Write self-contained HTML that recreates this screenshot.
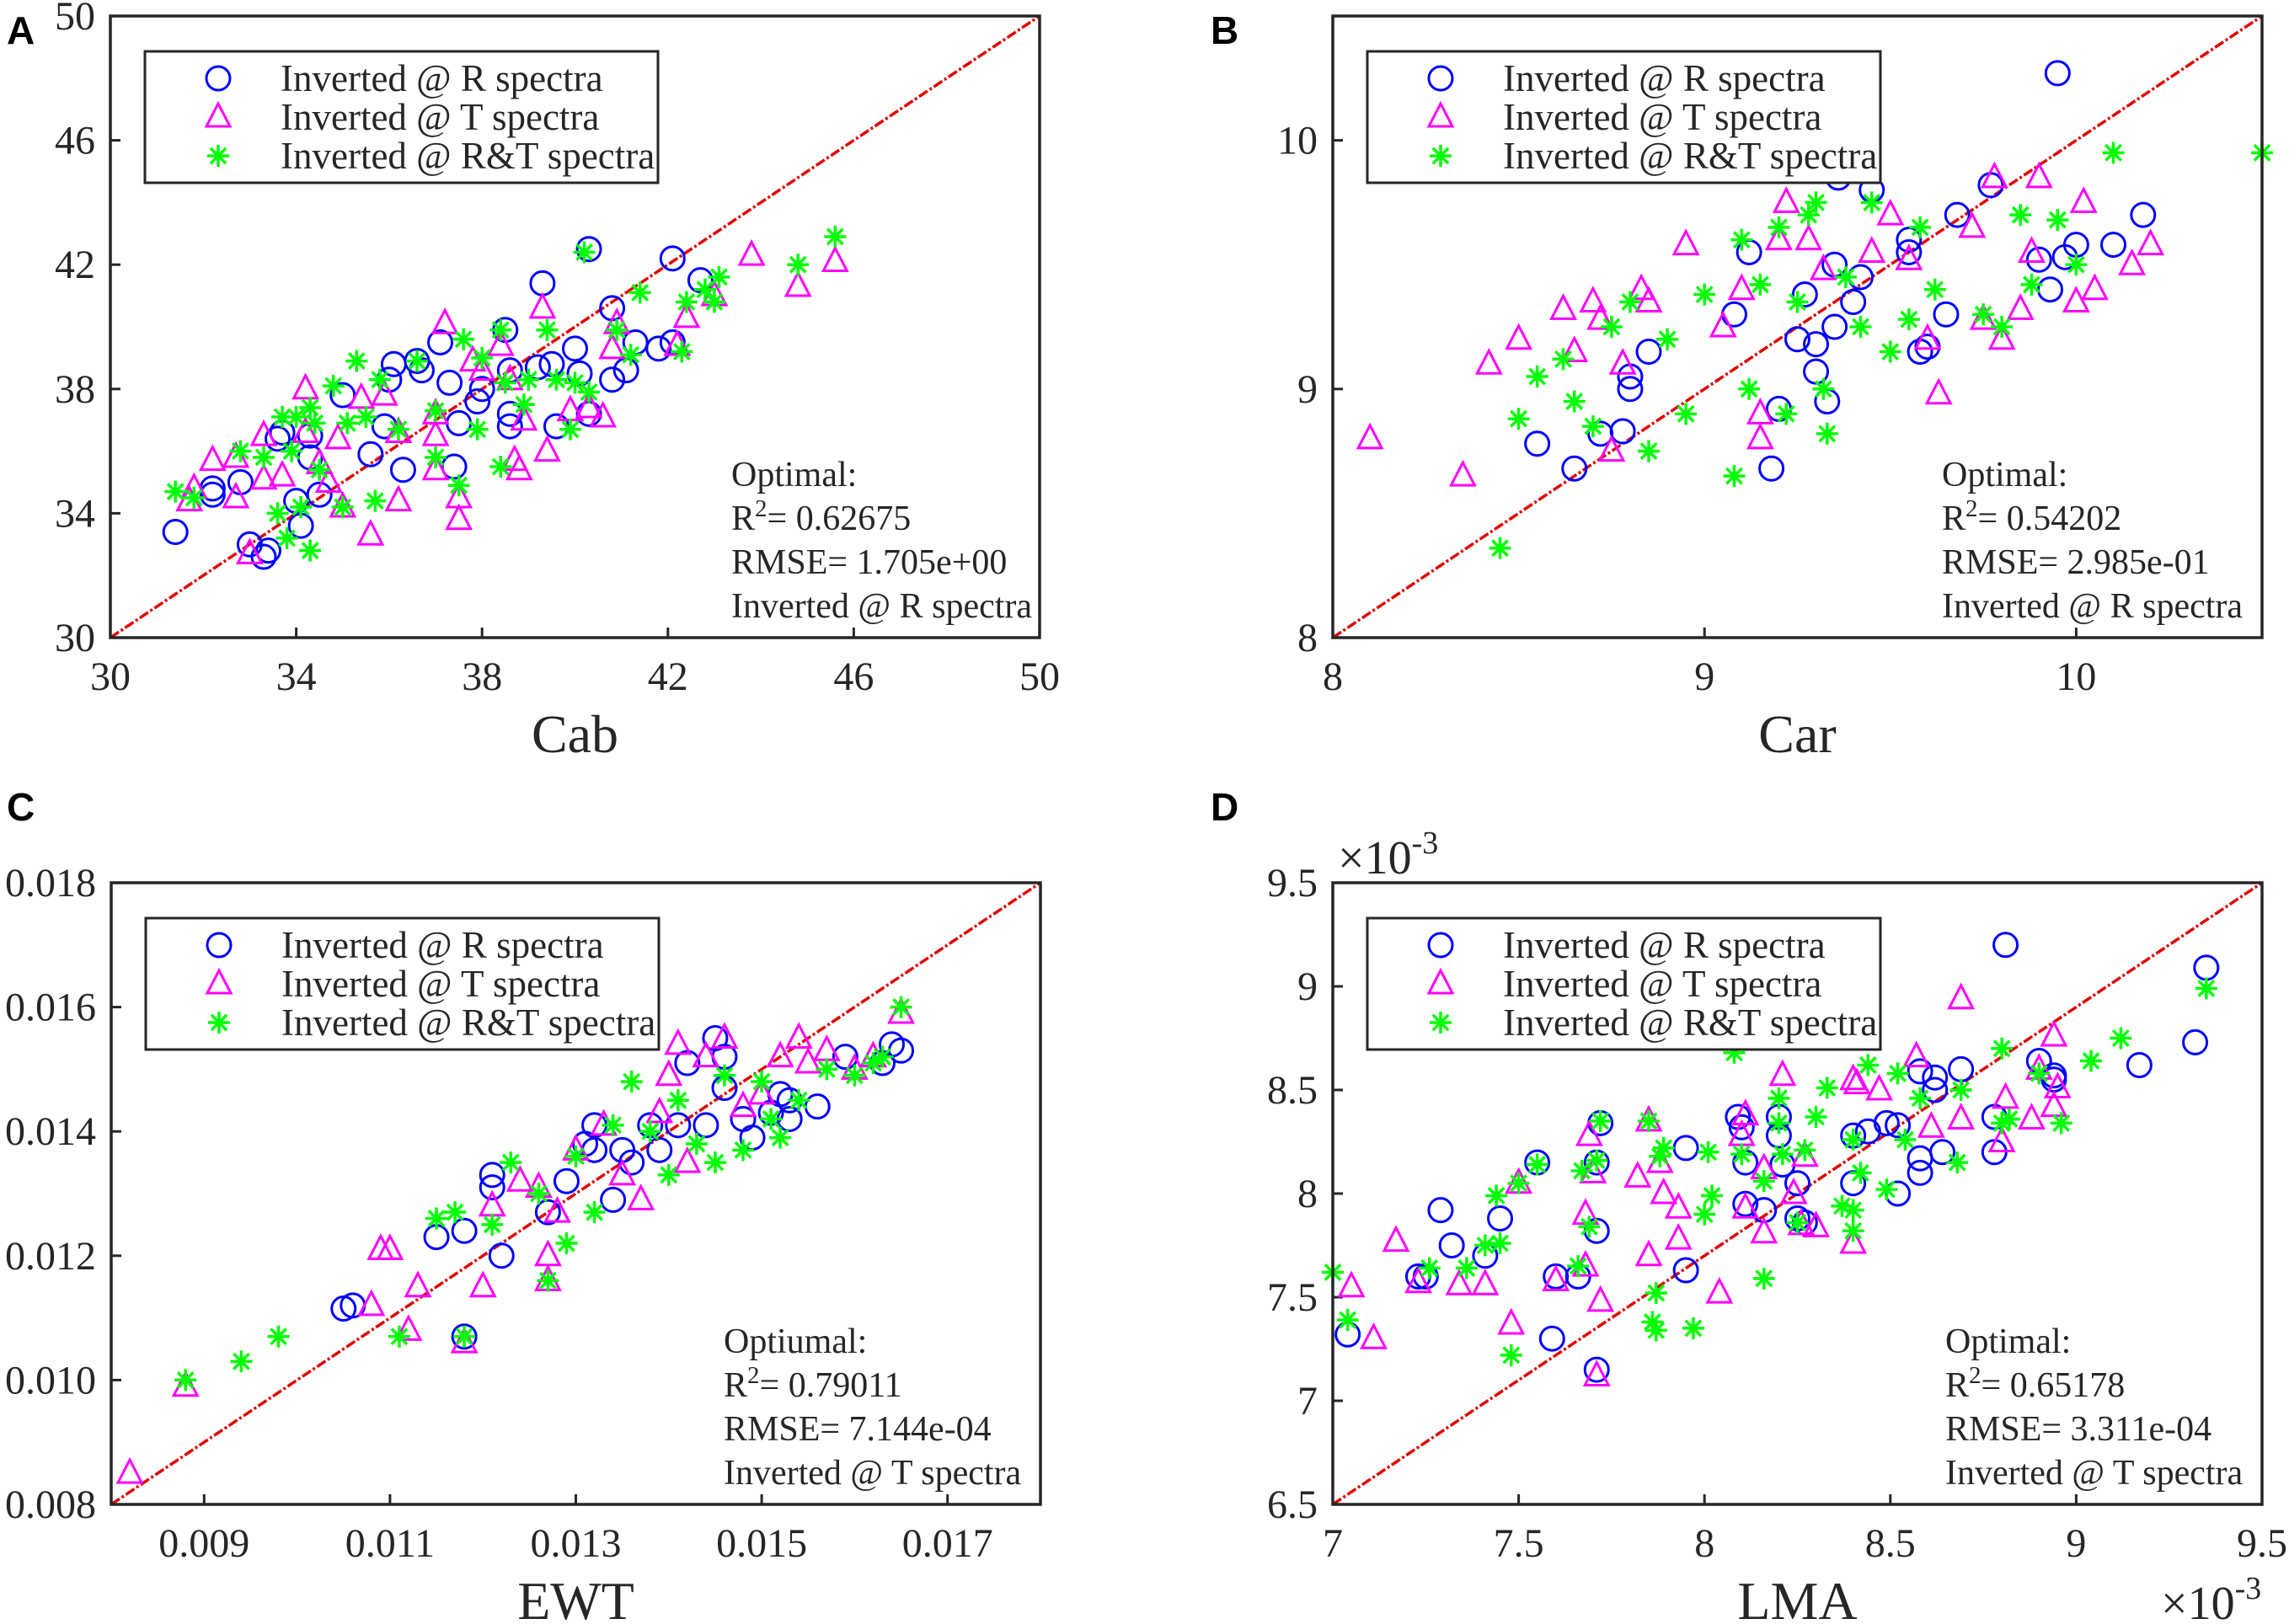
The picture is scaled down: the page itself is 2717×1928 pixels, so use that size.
<!DOCTYPE html>
<html><head><meta charset="utf-8"><style>
html,body{margin:0;padding:0;background:#fff;}
svg{display:block;}
text{font-family:"Liberation Serif",serif;fill:#262626;}
text.lbl{font-family:"Liberation Sans",sans-serif;font-weight:bold;fill:#000;}
</style></head><body>
<svg id="fig" width="2717" height="1928" viewBox="0 0 2717 1928" xmlns="http://www.w3.org/2000/svg"></svg>
<script>
// ---------- Panel A (Cab) ----------
const cabRx=[31.4,32.2,32.2,32.8,33.0,33.3,33.4,33.6,33.7,34.0,34.1,34.3,34.3,34.5,35.0,35.6,35.9,36.0,36.1,36.3,36.6,36.7,37.1,37.3,37.4,37.5,37.9,38.0,38.5,38.6,38.6,38.6,39.2,39.3,39.5,39.6,40.0,40.1,40.3,40.3,40.8,40.8,41.1,41.3,41.8,42.1,42.1,42.7];
const cabRy=[33.4,34.6,34.8,35.0,33.0,32.6,32.8,36.4,36.6,34.4,33.6,35.8,36.5,34.6,37.8,35.9,36.8,38.3,38.8,35.4,38.9,38.6,39.5,38.2,35.5,36.9,37.6,38.0,39.9,38.6,37.2,36.8,38.7,41.4,38.8,36.8,39.3,38.5,42.5,37.2,40.6,38.3,38.6,39.5,39.3,42.2,39.5,41.5];
const cabTx=[31.7,31.8,32.2,32.7,32.7,33.0,33.3,33.3,33.7,34.2,34.2,34.5,34.7,34.9,35.0,35.4,35.6,35.9,36.2,36.2,37.0,37.0,37.0,37.2,37.5,37.5,37.8,38.0,38.4,38.6,38.7,38.8,38.9,39.3,39.4,39.9,40.3,40.6,40.8,40.9,42.2,42.4,43.0,43.8,44.8,45.6];
const cabTy=[34.4,34.8,35.7,35.8,34.5,32.7,35.1,36.5,35.2,38.0,36.6,35.6,35.0,36.4,34.2,37.7,33.3,37.8,34.4,36.6,37.2,36.5,35.4,40.1,34.5,33.8,38.9,38.6,39.4,38.3,35.7,35.4,37.0,40.6,36.0,37.3,37.4,37.1,39.3,40.1,39.4,40.3,41.0,42.3,41.3,42.1];
const cabRTx=[31.4,31.8,32.8,33.3,33.6,33.7,33.8,33.9,34.0,34.1,34.3,34.3,34.4,34.5,34.8,35.0,35.1,35.3,35.5,35.7,35.8,36.2,36.6,37.0,37.0,37.5,37.6,37.9,38.0,38.4,38.4,38.5,38.9,39.0,39.4,39.6,39.9,40.0,40.2,40.3,40.9,41.2,41.4,42.3,42.4,42.8,43.0,43.1,44.8,45.6];
const cabRTy=[34.7,34.5,36.0,35.8,34.0,37.1,33.2,36.0,37.1,34.2,37.4,32.8,36.9,35.4,38.1,34.2,36.9,38.9,37.1,34.4,38.3,36.7,38.9,37.3,35.8,34.9,39.6,36.7,39.0,35.5,39.9,38.2,37.5,38.3,39.9,38.3,36.7,38.2,42.4,37.9,39.9,39.1,41.1,39.2,40.8,41.2,40.8,41.6,42.0,42.9];
const cabXTicks=[30,34,38,42,46,50];
const cabYTicks=[30,34,38,42,46,50];
const cabTickLabels=["30","34","38","42","46","50"];

// ---------- Panel B (Car) ----------
const carRx=[8.55,8.65,8.72,8.78,8.8,8.8,8.85,9.08,9.12,9.18,9.2,9.25,9.27,9.3,9.3,9.33,9.35,9.35,9.36,9.4,9.42,9.55,9.55,9.58,9.6,9.65,9.68,9.77,9.9,9.93,9.95,9.97,10.0,10.1,10.18,9.45];
const carRy=[8.78,8.68,8.82,8.83,9.0,9.05,9.15,9.3,9.55,8.68,8.92,9.2,9.38,9.07,9.18,8.95,9.25,9.5,9.85,9.35,9.45,9.55,9.6,9.15,9.17,9.3,9.7,9.82,9.52,9.4,10.27,9.53,9.58,9.58,9.7,9.8];
const carTx=[8.1,8.35,8.42,8.5,8.62,8.65,8.7,8.72,8.75,8.78,8.83,8.85,8.95,9.05,9.1,9.15,9.15,9.2,9.22,9.28,9.32,9.45,9.5,9.55,9.6,9.63,9.72,9.75,9.8,9.85,9.88,9.9,10.0,10.02,10.05,10.15,10.2,9.78];
const carTy=[8.8,8.65,9.1,9.2,9.32,9.15,9.35,9.28,8.75,9.1,9.4,9.35,9.58,9.25,9.4,8.9,8.8,9.6,9.75,9.6,9.48,9.55,9.7,9.52,9.2,8.98,9.65,9.28,9.2,9.32,9.55,9.85,9.35,9.75,9.4,9.5,9.58,9.85];
const carRTx=[8.45,8.5,8.55,8.62,8.65,8.7,8.75,8.8,8.85,8.9,8.95,9.0,9.08,9.1,9.12,9.15,9.2,9.22,9.25,9.28,9.3,9.32,9.33,9.38,9.42,9.5,9.55,9.58,9.62,9.75,9.8,9.88,9.95,10.0,10.1,10.5,9.85,9.45];
const carRTy=[8.36,8.88,9.05,9.12,8.95,8.85,9.25,9.35,8.75,9.2,8.9,9.38,8.65,9.6,9.0,9.42,9.65,8.9,9.35,9.7,9.75,9.0,8.82,9.45,9.25,9.15,9.28,9.65,9.4,9.3,9.25,9.42,9.68,9.5,9.95,9.95,9.7,9.75];
const carXTicks=[8,9,10];
const carYTicks=[8,9,10];
const carTickLabels=["8","9","10"];

// ---------- Panel C (EWT) ----------
const ewtRx=[0.0105,0.0106,0.0115,0.0118,0.0118,0.0121,0.0121,0.0122,0.0127,0.0129,0.0131,0.0132,0.0132,0.0134,0.0135,0.0136,0.0138,0.0139,0.0141,0.0142,0.0144,0.0145,0.0146,0.0146,0.0148,0.0149,0.0151,0.0152,0.0153,0.0153,0.0156,0.0159,0.0163,0.0165,0.0164];
const ewtRy=[0.01115,0.0112,0.0123,0.0124,0.0107,0.0133,0.0131,0.0120,0.0127,0.0132,0.0138,0.0141,0.0137,0.0129,0.0137,0.0135,0.0141,0.0137,0.0141,0.0151,0.0141,0.0155,0.0152,0.0147,0.0142,0.0139,0.0143,0.0146,0.0145,0.0142,0.0144,0.0152,0.0151,0.0153,0.0154];
const ewtTx=[0.0082,0.0088,0.0108,0.0109,0.0110,0.0112,0.0113,0.0118,0.0120,0.0121,0.0124,0.0126,0.0127,0.0127,0.0128,0.0130,0.0133,0.0135,0.0137,0.0139,0.0140,0.0141,0.0142,0.0144,0.0146,0.0148,0.0150,0.0152,0.0154,0.0155,0.0157,0.0160,0.0162,0.0165];
const ewtTy=[0.0085,0.0099,0.0112,0.0121,0.0121,0.0108,0.0115,0.0106,0.0115,0.0128,0.0132,0.0131,0.0120,0.0116,0.0127,0.0137,0.0141,0.0133,0.0129,0.0143,0.0149,0.0154,0.0135,0.0152,0.0155,0.0144,0.0146,0.0152,0.0155,0.0151,0.0153,0.0150,0.0152,0.0159];
const ewtRTx=[0.0088,0.0094,0.0098,0.0111,0.0115,0.0117,0.0118,0.0121,0.0123,0.0126,0.0127,0.0129,0.0130,0.0132,0.0134,0.0136,0.0138,0.0140,0.0141,0.0143,0.0145,0.0146,0.0148,0.0150,0.0151,0.0152,0.0154,0.0157,0.0160,0.0162,0.0165,0.0163];
const ewtRTy=[0.0100,0.0103,0.0107,0.0107,0.0126,0.0127,0.0107,0.0125,0.0135,0.0130,0.0116,0.0122,0.0136,0.0127,0.0141,0.0148,0.0140,0.0133,0.0145,0.0138,0.0135,0.0149,0.0137,0.0148,0.0142,0.0139,0.0145,0.0150,0.0149,0.0151,0.0160,0.0152];
const ewtXTicks=[0.009,0.011,0.013,0.015,0.017];
const ewtXLabels=["0.009","0.011","0.013","0.015","0.017"];
const ewtYTicks=[0.008,0.010,0.012,0.014,0.016,0.018];
const ewtYLabels=["0.008","0.010","0.012","0.014","0.016","0.018"];

// ---------- Panel D (LMA, x10^-3) ----------
const lmaRx=[7.04,7.23,7.25,7.29,7.32,7.41,7.45,7.55,7.59,7.6,7.66,7.71,7.71,7.72,7.71,7.95,7.95,8.09,8.1,8.11,8.11,8.16,8.2,8.21,8.2,8.25,8.25,8.27,8.4,8.4,8.44,8.49,8.52,8.52,8.58,8.58,8.58,8.62,8.62,8.64,8.69,8.78,8.78,8.81,8.9,8.94,8.94,9.17,9.32,9.35];
const lmaRy=[7.32,7.6,7.6,7.92,7.75,7.7,7.88,8.15,7.3,7.6,7.6,8.15,7.82,8.34,7.15,8.22,7.63,8.37,8.32,7.95,8.15,7.92,8.37,8.14,8.28,8.05,7.88,7.86,8.28,8.05,8.3,8.34,8.33,8.0,8.17,8.1,8.59,8.56,8.5,8.2,8.6,8.2,8.37,9.2,8.64,8.55,8.57,8.62,8.73,9.09];
const lmaTx=[7.05,7.11,7.17,7.23,7.34,7.41,7.48,7.5,7.6,7.68,7.68,7.69,7.7,7.72,7.71,7.82,7.85,7.85,7.88,7.89,7.93,7.93,8.04,8.1,8.11,8.11,8.16,8.16,8.21,8.24,8.26,8.27,8.3,8.4,8.41,8.4,8.47,8.57,8.61,8.69,8.69,8.8,8.81,8.88,8.94,8.94,8.95,8.9];
const lmaTy=[7.55,7.3,7.77,7.57,7.56,7.56,7.37,8.05,7.58,7.65,7.9,8.28,8.1,7.48,7.12,8.08,8.35,7.7,8.15,8.0,7.93,7.78,7.52,8.28,8.38,7.93,7.81,8.12,8.57,8.0,7.85,8.18,7.84,8.55,8.53,7.76,8.5,8.66,8.32,8.94,8.36,8.25,8.46,8.36,8.76,8.42,8.51,8.6];
const lmaRTx=[7.0,7.04,7.26,7.36,7.41,7.44,7.45,7.48,7.5,7.55,7.66,7.67,7.69,7.71,7.72,7.85,7.86,7.87,7.87,7.88,7.89,7.97,8.0,8.01,8.02,8.08,8.1,8.16,8.16,8.2,8.2,8.21,8.25,8.27,8.3,8.33,8.37,8.4,8.4,8.4,8.42,8.44,8.49,8.52,8.54,8.58,8.68,8.69,8.8,8.8,8.82,8.9,8.96,9.04,9.12,9.35];
const lmaRTy=[7.62,7.39,7.64,7.64,7.75,7.99,7.76,7.22,8.05,8.14,7.65,8.11,7.84,8.16,8.35,8.35,7.38,7.34,7.52,8.18,8.22,7.35,7.9,8.2,7.99,8.68,8.19,8.06,7.59,8.46,8.34,8.19,7.86,8.21,8.37,8.51,7.94,7.92,7.82,8.26,8.1,8.62,8.02,8.58,8.26,8.46,8.15,8.5,8.7,8.34,8.36,8.58,8.34,8.64,8.75,8.99];
const lmaXTicks=[7,7.5,8,8.5,9,9.5];
const lmaXLabels=["7","7.5","8","8.5","9","9.5"];
const lmaYTicks=[6.5,7,7.5,8,8.5,9,9.5];
const lmaYLabels=["6.5","7","7.5","8","8.5","9","9.5"];

const NS="http://www.w3.org/2000/svg";
const SERIF='"Liberation Serif", "Times New Roman", serif';
const svg=document.getElementById('fig');
function mk(tag,attrs,parent){const e=document.createElementNS(NS,tag);for(const k in attrs)e.setAttribute(k,attrs[k]);if(tag==='text'&&!attrs['class'])e.setAttribute('font-family',SERIF);(parent||svg).appendChild(e);return e;}
const MR=14;
function star(px,py,s){const d=s*0.707;return `M${px-s},${py}H${px+s}M${px},${py-s}V${py+s}M${px-d},${py-d}L${px+d},${py+d}M${px-d},${py+d}L${px+d},${py-d}`;}
function tri(px,py){return `${px},${py-16} ${px-14},${py+11} ${px+14},${py+11}`;}

function panel(cfg){
  const g=mk('g',{});
  
  
  const L=cfg.L,T=cfg.T,W=1103,H=738;
  const sx=v=>L+(v-cfg.xmin)/(cfg.xmax-cfg.xmin)*W;
  const sy=v=>T+H-(v-cfg.ymin)/(cfg.ymax-cfg.ymin)*H;
  const bg=mk('rect',{x:L,y:T,width:W,height:H,fill:'#fff'},g);
  
  
  cfg.xt.forEach((v,i)=>{
    const t=mk('line',{x1:sx(v),x2:sx(v),y1:T+H,y2:T+H-12,stroke:'#262626','stroke-width':3},g);
    
    
    const tx=mk('text',{x:sx(v),y:T+H+62,'font-size':48,'text-anchor':'middle'},g);
    tx.textContent=cfg.xl[i];
    
    
  });
  cfg.yt.forEach((v,i)=>{
    const t=mk('line',{x1:L,x2:L+12,y1:sy(v),y2:sy(v),stroke:'#262626','stroke-width':3},g);
    
    
    const tx=mk('text',{x:L-18,y:sy(v)+16,'font-size':48,'text-anchor':'end'},g);
    tx.textContent=cfg.yl[i];
    
    
  });
  const dl=mk('line',{x1:sx(cfg.xmin),y1:sy(cfg.ymin),x2:sx(cfg.xmax),y2:sy(cfg.ymax),stroke:'#e00000','stroke-width':3.5,'stroke-dasharray':'12,3,3,3'},g);
  
  
  cfg.R[0].forEach((x,i)=>{
    const c=mk('circle',{cx:sx(x),cy:sy(cfg.R[1][i]),r:MR,fill:'none',stroke:'#0000ff','stroke-width':3},g);
    
    
  });
  cfg.T_[0].forEach((x,i)=>{
    const p=mk('polygon',{points:tri(sx(x),sy(cfg.T_[1][i])),fill:'none',stroke:'#ff00ff','stroke-width':3},g);
    
    
  });
  cfg.RT[0].forEach((x,i)=>{
    const p=mk('path',{d:star(sx(x),sy(cfg.RT[1][i]),13),stroke:'#00ff00','stroke-width':3.5,fill:'none'},g);
    
    
  });
  const fr=mk('rect',{x:L,y:T,width:W,height:H,fill:'none',stroke:'#262626','stroke-width':3.5},g);
  
  
  const lg=mk('g',{},g);
  
  
  const LX=L+41,LY=T+42;
  mk('rect',{x:LX,y:LY,width:609,height:156,fill:'#fff',stroke:'#262626','stroke-width':3},lg);
  const rows=['Inverted @ R spectra','Inverted @ T spectra','Inverted @ R&T spectra'];
  rows.forEach((s,i)=>{
    const cy=LY+32+i*46, mx=LX+87;
    let m;
    if(i===0) m=mk('circle',{cx:mx,cy:cy,r:MR,fill:'none',stroke:'#0000ff','stroke-width':3},lg);
    else if(i===1) m=mk('polygon',{points:tri(mx,cy),fill:'none',stroke:'#ff00ff','stroke-width':3},lg);
    else m=mk('path',{d:star(mx,cy,13),stroke:'#00ff00','stroke-width':3.5},lg);
    
    
    const t=mk('text',{x:LX+161,y:cy+15,'font-size':45,fill:'#000'},lg);
    t.textContent=s;
    
    
  });
  const an=mk('text',{x:L+cfg.ax,y:T+H-180,'font-size':42,fill:'#000'},g);
  an.textContent=cfg.ann[0];
  
  
  const r2=mk('text',{x:L+cfg.ax,y:T+H-128,'font-size':42,fill:'#000'},g);
  r2.innerHTML='R<tspan dy="-16" font-size="29">2</tspan><tspan dy="16">= '+cfg.ann[1]+'</tspan>';
  
  
  const rm=mk('text',{x:L+cfg.ax,y:T+H-76,'font-size':42,fill:'#000'},g);
  rm.textContent='RMSE= '+cfg.ann[2];
  
  
  const iv=mk('text',{x:L+cfg.ax,y:T+H-24,'font-size':42,fill:'#000'},g);
  iv.textContent=cfg.ann[3];
  
  
  const xt=mk('text',{x:L+W/2,y:T+H+136,'font-size':64,'text-anchor':'middle'},g);
  xt.textContent=cfg.title;
  
  
  const pl=mk('text',{x:cfg.lx,y:cfg.ly,'font-size':46,class:'lbl','font-family':'"Liberation Sans", sans-serif','font-weight':'bold'},g);
  pl.textContent=cfg.letter;
  
  
  return g;
}

panel({name:'panel-a-cab',L:131,T:19,xmin:30,xmax:50,ymin:30,ymax:50,xt:cabXTicks,xl:cabTickLabels,yt:cabYTicks,yl:cabTickLabels,
  R:[cabRx,cabRy],T_:[cabTx,cabTy],RT:[cabRTx,cabRTy],ax:737,ann:['Optimal:','0.62675','1.705e+00','Inverted @ R spectra'],title:'Cab',letter:'A',lx:8,ly:52});
panel({name:'panel-b-car',L:1582,T:19,xmin:8,xmax:10.5,ymin:8,ymax:10.5,xt:carXTicks,xl:carTickLabels,yt:carYTicks,yl:carTickLabels,
  R:[carRx,carRy],T_:[carTx,carTy],RT:[carRTx,carRTy],ax:723,ann:['Optimal:','0.54202','2.985e-01','Inverted @ R spectra'],title:'Car',letter:'B',lx:1437,ly:52});
panel({name:'panel-c-ewt',L:132,T:1048,xmin:0.008,xmax:0.018,ymin:0.008,ymax:0.018,xt:ewtXTicks,xl:ewtXLabels,yt:ewtYTicks,yl:ewtYLabels,
  R:[ewtRx,ewtRy],T_:[ewtTx,ewtTy],RT:[ewtRTx,ewtRTy],ax:727,ann:['Optiumal:','0.79011','7.144e-04','Inverted @ T spectra'],title:'EWT',letter:'C',lx:8,ly:974});
panel({name:'panel-d-lma',L:1582,T:1048,xmin:7,xmax:9.5,ymin:6.5,ymax:9.5,xt:lmaXTicks,xl:lmaXLabels,yt:lmaYTicks,yl:lmaYLabels,
  R:[lmaRx,lmaRy],T_:[lmaTx,lmaTy],RT:[lmaRTx,lmaRTy],ax:727,ann:['Optimal:','0.65178','3.311e-04','Inverted @ T spectra'],title:'LMA',letter:'D',lx:1437,ly:974});

const e1=mk('text',{x:1588,y:1037,'font-size':56});
e1.innerHTML='×10<tspan dy="-24" font-size="38">-3</tspan>';


const e2=mk('text',{x:2565,y:1922,'font-size':56});
e2.innerHTML='×10<tspan dy="-24" font-size="38">-3</tspan>';


</script>
</body></html>
